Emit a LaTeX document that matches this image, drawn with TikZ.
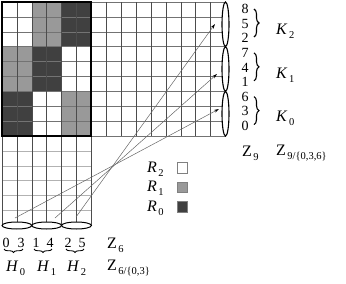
\documentclass[tikz,border=0pt]{standalone}
\usepackage{fontspec}
\setmainfont{Liberation Serif}
\usetikzlibrary{shapes.geometric,arrows.meta,decorations.pathreplacing}
\definecolor{lgr}{gray}{0.6}
\definecolor{dgr}{gray}{0.25}
\newcommand{\mysub}[2]{#1\kern1.5pt\raisebox{-4pt}{\fontsize{10.5}{10.5}\selectfont #2}}
\begin{document}
\begin{tikzpicture}[x=1pt,y=-1pt,
  vline/.style={draw=black!70,line width=0.6pt},
  hline/.style={draw=black!55,line width=0.6pt},
  hlow/.style={draw=black!30,line width=0.7pt},
  rell/.style={ellipse,draw,fill=white,line width=1.1pt,minimum width=7pt,minimum height=44.7pt,inner sep=0pt},
  bell/.style={ellipse,draw,fill=white,line width=1pt,minimum width=29.8pt,minimum height=7pt,inner sep=0pt},
  num/.style={inner sep=0pt,font=\fontsize{14}{14}\selectfont},
  lab/.style={inner sep=0pt,font=\fontsize{16}{16}\selectfont,anchor=west},
  rbrace/.style={decorate,decoration={brace,amplitude=5pt},line width=1.1pt},
  ubrace/.style={decorate,decoration={brace,mirror,amplitude=3.5pt},line width=0.9pt},
  conn/.style={draw=black!60,line width=0.5pt,-{Stealth[length=5pt,width=3pt,black]}},
  key/.style={draw=black!50,line width=0.6pt,minimum size=10.5pt,inner sep=0pt}]
\useasboundingbox (0,0) rectangle (346,284);
% coloured cells
\fill[lgr] (31.8,2) rectangle (61.6,46.7);
\fill[dgr] (61.6,2) rectangle (91.4,46.7);
\fill[lgr] (2,46.7) rectangle (31.8,91.4);
\fill[dgr] (31.8,46.7) rectangle (61.6,91.4);
\fill[dgr] (2,91.4) rectangle (31.8,136.1);
\fill[lgr] (61.6,91.4) rectangle (91.4,136.1);
% upper grid
\foreach \r in {0,...,9} \draw[hline] (2,{2+\r*14.9}) -- (225.5,{2+\r*14.9});
\foreach \k in {7,...,14} \draw[vline] ({2+\k*14.9},2) -- ({2+\k*14.9},136.1);
% lower grid
\foreach \r in {10,...,14} \draw[hlow] (2,{2+\r*14.9}) -- (91.4,{2+\r*14.9});
\foreach \k in {0,...,6} \draw[vline] ({2+\k*14.9},2) -- ({2+\k*14.9},225.5);
% thick frame
\draw[line width=2pt] (2,2) rectangle (91.4,136.1);
% right ellipses
\node[rell] (K2e) at (225.5,24.35) {};
\node[rell] (K1e) at (225.5,69.05) {};
\node[rell] (K0e) at (225.5,113.75) {};
% bottom ellipses
\node[bell] (H0e) at (16.9,225.5) {};
\node[bell] (H1e) at (46.7,225.5) {};
\node[bell] (H2e) at (76.5,225.5) {};
% connectors
\coordinate (a0) at (15,218);
\coordinate (a1) at (55,218);
\coordinate (a2) at (76,217);
\coordinate (b0) at (219,109);
\coordinate (b1) at (217,74);
\coordinate (b2) at (215,24);
\draw[conn] (a0) -- (b0);
\draw[conn] (a1) -- (b1);
\draw[conn] (a2) -- (b2);
% right numbers
\foreach \t [count=\i from 0] in {8,5,2,7,4,1,6,3,0}
  \node[num] (n\i) at (245,{9+14.6*\i}) {\t};
% braces and K labels
\foreach \m/\s in {0/2,1/1,2/0}{
  \draw[rbrace] (254,{9+43.8*\m}) -- (254,{37+43.8*\m});
  \node[lab] (K\s) at (276,{31+43.8*\m}) {\mysub{\textit{K}}{\s}};
}
% Z9 labels
\node[lab] (z9) at (242,153) {\mysub{Z}{9}};
\node[lab] (z9q) at (276,153) {\mysub{Z}{9/\{0,3,6\}}};
% legend
\node[lab] (R2) at (147,169) {\mysub{\textit{R}}{2}};
\node[lab] (R1) at (147,188.5) {\mysub{\textit{R}}{1}};
\node[lab] (R0) at (147,208) {\mysub{\textit{R}}{0}};
\node[key,fill=white] (s2) at (182.5,168) {};
\node[key,fill=lgr] (s1) at (182.5,187.5) {};
\node[key,fill=dgr] (s0) at (182.5,207) {};
% bottom digits
\node[num] (d0) at (6,243) {0};
\node[num] (d3) at (21,243) {3};
\node[num] (d1) at (36,243) {1};
\node[num] (d4) at (50,243) {4};
\node[num] (d2) at (68,243) {2};
\node[num] (d5) at (82,243) {5};
\draw[ubrace] (4,249) -- (23,249);
\draw[ubrace] (34,249) -- (52,249);
\draw[ubrace] (66,249) -- (84,249);
\node[lab] (H0) at (6,268) {\mysub{\textit{H}}{0}};
\node[lab] (H1) at (37,268) {\mysub{\textit{H}}{1}};
\node[lab] (H2) at (67,268) {\mysub{\textit{H}}{2}};
\node[lab] (z6) at (107,245) {\mysub{Z}{6}};
\node[lab] (z6q) at (107,268) {\mysub{Z}{6/\{0,3\}}};
\end{tikzpicture}
\end{document}
